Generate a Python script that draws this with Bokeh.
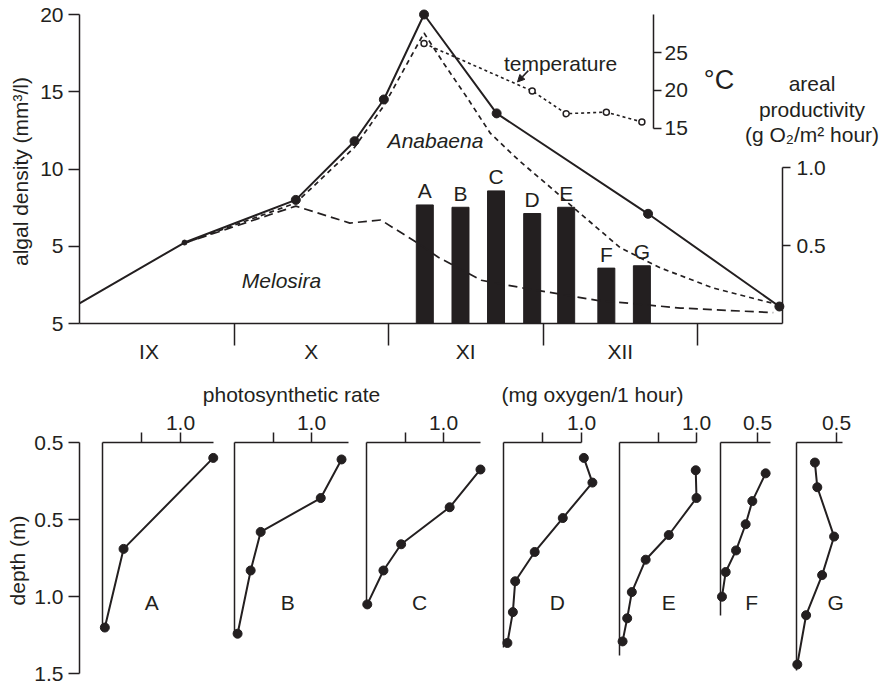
import numpy as np
from bokeh.plotting import figure
from bokeh.models import Range1d, LinearAxis, FixedTicker, Arrow, NormalHead
from bokeh.core.properties import value
from bokeh.embed import file_html
from bokeh.resources import INLINE

# ---------------- data ----------------
months = ["IX", "X", "XI", "XII"]
month_label_pos = [0.45, 1.5, 2.5, 3.5]
month_bounds = [1, 2, 3, 4]

# total algal density (solid line), time in month units from 1 Sep
total_t = [0.0, 0.68, 1.40, 1.78, 1.97, 2.23, 2.70, 3.68, 4.53]
total_v = [1.3, 5.24, 8.0, 11.8, 14.5, 20.0, 13.6, 7.1, 1.1]

# Anabaena + Melosira (short dashes)
anab_t = [0.68, 1.40, 1.78, 1.97, 2.23, 2.36, 2.51, 2.66, 2.85, 3.05, 3.22, 3.50, 3.76, 4.10, 4.49]
anab_v = [5.2, 7.8, 11.4, 14.1, 18.8, 16.8, 14.6, 12.3, 10.5, 8.8, 7.3, 4.9, 3.6, 2.3, 1.3]

# Melosira (long dashes)
mel_t = [0.68, 1.40, 1.75, 1.95, 2.19, 2.32, 2.60, 2.87, 3.35, 3.89, 4.49]
mel_v = [5.2, 7.6, 6.5, 6.7, 5.2, 4.3, 2.8, 2.3, 1.5, 1.0, 0.7]

# temperature (deg C)
temp_t = [2.23, 2.93, 3.15, 3.41, 3.64]
temp_v = [26.2, 19.9, 16.9, 17.1, 15.8]
temp_ticks = [15, 20, 25]

# areal productivity (g O2 / m2 hour)
samples = ["A", "B", "C", "D", "E", "F", "G"]
sample_t = [2.235, 2.466, 2.696, 2.93, 3.15, 3.41, 3.64]
areal = [0.76, 0.745, 0.85, 0.705, 0.745, 0.355, 0.37]
areal_ticks = [0.5, 1.0]
areal_labels = {0.5: "0.5", 1.0: "1.0"}

density_ticks = [0, 5, 10, 15, 20]
density_labels = {0: "5"}
depth_ticks = [0, 0.5, 1.0, 1.5]
depth_labels = {0: "0.5", 0.5: "0.5", 1.0: "1.0", 1.5: "1.5"}

# depth profiles: photosynthetic rate (mg O2 / 1 h) vs depth (m)
rate_A = [1.42, 0.27, 0.03]
depth_A = [0.10, 0.69, 1.20]
rate_B = [1.39, 1.12, 0.34, 0.21, 0.04]
depth_B = [0.11, 0.36, 0.58, 0.83, 1.24]
rate_C = [1.48, 1.08, 0.45, 0.22, 0.01]
depth_C = [0.175, 0.42, 0.66, 0.83, 1.05]
rate_D = [1.03, 1.14, 0.76, 0.40, 0.15, 0.12, 0.05]
depth_D = [0.10, 0.26, 0.49, 0.71, 0.90, 1.10, 1.30]
rate_E = [0.99, 1.0, 0.64, 0.34, 0.16, 0.10, 0.04]
depth_E = [0.18, 0.36, 0.60, 0.76, 0.97, 1.14, 1.29]
rate_F = [0.61, 0.43, 0.34, 0.21, 0.07, 0.02]
depth_F = [0.20, 0.38, 0.53, 0.70, 0.84, 1.0]
rate_G = [0.23, 0.26, 0.47, 0.32, 0.12, 0.01]
depth_G = [0.13, 0.29, 0.61, 0.86, 1.12, 1.44]

profiles = {
    "A": (rate_A, depth_A), "B": (rate_B, depth_B), "C": (rate_C, depth_C),
    "D": (rate_D, depth_D), "E": (rate_E, depth_E), "F": (rate_F, depth_F),
    "G": (rate_G, depth_G),
}
profile_ticks = {"A": [0.5, 1.0], "B": [0.5, 1.0], "C": [0.5, 1.0], "D": [0.5, 1.0],
                 "E": [0.5, 1.0], "F": [0.5], "G": [0.5]}

# ---------------- layout (pixels) ----------------
W, H = 886, 687
FONT = "Liberation Sans"
INK = "#231f20"
FS = "21px"
TXT_SHIFT = -8  # svg alphabetic baseline correction (px, negative = up)

# top chart: month 0 at px 79, 154.5 px per month; density 0 at py 323, 15.45 px per unit
mx0, mk = 79.0, 154.5
dy0, dk = 323.0, 15.45
# temperature: 25 at py 52, 7.55 px per degree
ty25, tk = 52.0, 7.55
# productivity: 0 at py 323, 156 px per unit
pk = 156.0
# depth: 0 at py 442, 154.2 px per m
zy0, zk = 442.0, 154.2
# panels: (left px, px per unit, top axis end, vertical line end, letter x)
panel_geom = {
    "A": (102, 78, 1.42, 1.20, 0.63),
    "B": (234, 77, 1.48, 1.24, 0.69),
    "C": (366, 77, 1.48, 1.05, 0.69),
    "D": (503, 78, 1.00, 1.33, 0.69),
    "E": (619, 77, 1.00, 1.38, 0.64),
    "F": (720, 74, 0.68, 1.12, 0.42),
    "G": (796, 80, 0.575, 1.48, 0.49),
}

p = figure(width=W, height=H, output_backend="svg", toolbar_location=None,
           x_axis_type=None, y_axis_type=None, min_border=0, title=None,
           x_range=Range1d(-mx0 / mk, (W - mx0) / mk),
           y_range=Range1d(-(H - dy0) / dk, dy0 / dk))
p.outline_line_color = None
p.background_fill_color = "white"
p.border_fill_color = "white"

p.extra_y_ranges = {
    "temp": Range1d(25 - (H - ty25) / tk, 25 + ty25 / tk),
    "prod": Range1d(-(H - dy0) / pk, dy0 / pk),
    "depth": Range1d((H - zy0) / zk, -zy0 / zk),
}
for name, (x0, k, _, _, _) in panel_geom.items():
    p.extra_x_ranges["x" + name] = Range1d(-x0 / k, (W - x0) / k)


def add_axis(side, ticks, loc, bounds, xr="default", yr="default", overrides=None,
             tick_out=10, standoff=5, font_size=FS, axis_line=True, tick_width=1.5):
    ax = LinearAxis(ticker=FixedTicker(ticks=ticks), fixed_location=loc, bounds=bounds,
                    x_range_name=xr, y_range_name=yr,
                    major_tick_out=tick_out, major_tick_in=0, minor_tick_out=0, minor_tick_in=0,
                    major_label_standoff=standoff,
                    axis_line_width=1.5, axis_line_color=INK if axis_line else None,
                    major_tick_line_width=tick_width, major_tick_line_color=INK,
                    major_label_text_font=FONT, major_label_text_font_size=font_size,
                    major_label_text_color=INK)
    if overrides is not None:
        ax.major_label_overrides = overrides
    p.add_layout(ax, side)
    return ax


# ---------- top chart axes ----------
add_axis("left", density_ticks, 0, (0, 20), overrides=density_labels, tick_out=11, standoff=5)
add_axis("below", month_bounds, 0, (0, 4.55), overrides={m: "" for m in month_bounds},
         tick_out=22, standoff=0)
add_axis("below", month_label_pos, 0, (0, 4.55),
         overrides={pos: lab for pos, lab in zip(month_label_pos, months)},
         tick_out=0, standoff=16, axis_line=False, tick_width=0)
add_axis("right", temp_ticks, 3.715, (15, 30), yr="temp", tick_out=8, standoff=3)
add_axis("right", areal_ticks, 4.55, (0, 1.0), yr="prod", overrides=areal_labels,
         tick_out=8, standoff=6)

# ---------- top chart marks ----------
p.vbar(x=sample_t, top=areal, bottom=0, width=0.11, y_range_name="prod",
       fill_color=INK, line_color=INK)
p.text(x=sample_t, y=areal, text=samples, y_range_name="prod", y_offset=-6 + TXT_SHIFT,
       text_font=value(FONT), text_font_size=FS, text_color=INK,
       text_align="center", text_baseline="alphabetic")

p.line(mel_t, mel_v, line_color=INK, line_width=1.7, line_dash="9 5")
p.line(anab_t, anab_v, line_color=INK, line_width=1.7, line_dash="5 4")
p.line(total_t, total_v, line_color=INK, line_width=2.0)
p.scatter(total_t[2:], total_v[2:], size=9, color=INK)
p.scatter(total_t[1:2], total_v[1:2], size=5, color=INK)

p.line(temp_t, temp_v, y_range_name="temp", line_color=INK, line_width=1.6, line_dash="3 3")
p.scatter(temp_t, temp_v, y_range_name="temp", size=6, fill_color="white",
          line_color=INK, line_width=1.5)

p.add_layout(Arrow(end=NormalHead(size=7, fill_color=INK, line_color=INK),
                   x_start=2.905, y_start=22.6, x_end=2.835, y_end=21.1,
                   y_range_name="temp", line_color=INK, line_width=1.5))


def txt(x, y, s, yr="default", xr="default", size=FS, style="normal", angle=0,
        align="center", baseline="alphabetic"):
    p.text(x=[x], y=[y], text=[s], x_range_name=xr, y_range_name=yr, angle=angle,
           y_offset=TXT_SHIFT if baseline == "alphabetic" else 0,
           text_font=value(FONT), text_font_size=size, text_font_style=style,
           text_color=INK, text_align=align, text_baseline=baseline)


txt((20 - mx0) / mk, (dy0 - 171) / dk, "algal density (mm³/l)", angle=np.pi / 2,
    baseline="middle")
txt((435 - mx0) / mk, (dy0 - 148) / dk, "Anabaena", style="italic")
txt((281 - mx0) / mk, (dy0 - 288) / dk, "Melosira", style="italic")
txt((560 - mx0) / mk, (dy0 - 71) / dk, "temperature")
txt((718.5 - mx0) / mk, (dy0 - 87) / dk, "°C", size="27px")
txt((811.5 - mx0) / mk, (dy0 - 90.7) / dk, "areal")
txt((811.5 - mx0) / mk, (dy0 - 116.7) / dk, "productivity")
txt((811.5 - mx0) / mk, (dy0 - 141.7) / dk, "(g O\u2082/m\u00b2 hour)")

# ---------- bottom: depth profiles ----------
add_axis("left", depth_ticks, 0, (0, 1.5), yr="depth", overrides=depth_labels,
         tick_out=11, standoff=5)
txt((17 - mx0) / mk, (560 - zy0) / zk, "depth (m)", yr="depth", angle=np.pi / 2,
    baseline="middle")
txt((291 - mx0) / mk, (401.7 - zy0) / zk, "photosynthetic rate", yr="depth")
txt((592 - mx0) / mk, (401.7 - zy0) / zk, "(mg oxygen/1 hour)", yr="depth")

for name, (rate, depth) in profiles.items():
    x0, k, xend, zend, letter_x = panel_geom[name]
    xr = "x" + name
    ticks = profile_ticks[name]
    labels = {t: ("" if (len(ticks) > 1 and t != max(ticks)) else f"{t:.1f}") for t in ticks}
    add_axis("above", ticks, 0, (0, xend), xr=xr, yr="depth", overrides=labels,
             tick_out=10, standoff=3)
    add_axis("left", [], 0, (0, zend), xr=xr, yr="depth", tick_out=0, standoff=0)
    p.line(rate, depth, x_range_name=xr, y_range_name="depth", line_color=INK, line_width=2.0)
    p.scatter(rate, depth, x_range_name=xr, y_range_name="depth", size=9, color=INK)
    txt(letter_x, (610 - zy0) / zk, name, xr=xr, yr="depth")

open("out.html", "w").write(file_html(p, INLINE))
